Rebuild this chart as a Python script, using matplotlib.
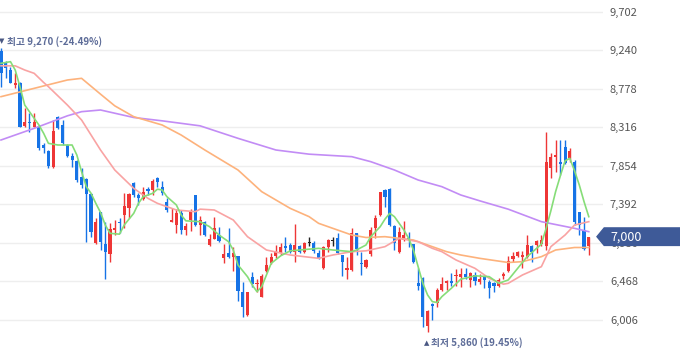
import numpy as np
import matplotlib.pyplot as plt
from matplotlib.patches import Polygon
from matplotlib.transforms import blended_transform_factory

plt.rcParams['font.family'] = ['Noto Sans CJK KR', 'DejaVu Sans']

# daily candles (KRW), oldest -> newest
opens = [9232, 9092, 9000, 8820, 8840, 8332, 8380, 8320, 8320, 8100,
         8028, 7840, 8432, 8340, 8100, 7972, 7912, 7720, 7692, 7508,
         6920, 7300, 6908, 6792, 7080, 7180, 7260, 7340, 7648, 7500,
         7452, 7572, 7556, 7700, 7592, 7420, 7180, 7140, 7280, 7080,
         7200, 7500, 7140, 7180, 6900, 6972, 7020, 6740, 6800, 6760,
         6768, 6340, 6060, 6512, 6428, 6280, 6592, 6680, 6768, 6800,
         6888, 6900, 6820, 6888, 6820, 6924, 6928, 6800, 6620, 6880,
         6948, 6980, 6780, 6600, 6600, 7040, 6688, 6640, 6788, 7100,
         7260, 7560, 7572, 7132, 6820, 6960, 6988, 6912, 6440, 6500,
         5924, 6188, 6200, 6360, 6444, 6468, 6524, 6520, 6552, 6480,
         6540, 6460, 6520, 6460, 6440, 6412, 6532, 6588, 6732, 6772,
         6752, 6760, 6892, 6900, 6908, 6892, 7828, 7960, 7892, 8072,
         7940, 7900, 7292, 7080, 6892]
highs = [9270, 9112, 9040, 8960, 8860, 8544, 8484, 8484, 8340, 8128,
         8040, 8400, 8448, 8400, 8110, 8000, 7920, 7820, 7700, 7520,
         7220, 7300, 7180, 7160, 7200, 7220, 7520, 7520, 7660, 7520,
         7600, 7600, 7688, 7720, 7672, 7460, 7340, 7328, 7320, 7160,
         7328, 7500, 7250, 7190, 7032, 7240, 7120, 6912, 7100, 6880,
         6772, 6460, 6340, 6580, 6488, 6552, 6752, 6808, 6900, 6928,
         7000, 6924, 7148, 6900, 6940, 6992, 6948, 6840, 6888, 6968,
         6992, 7040, 6780, 6760, 7100, 7048, 6820, 6732, 7120, 7260,
         7540, 7572, 7584, 7140, 7120, 7192, 7060, 6912, 6620, 6520,
         6120, 6200, 6380, 6516, 6480, 6560, 6608, 6620, 6620, 6580,
         6576, 6548, 6540, 6480, 6460, 6500, 6580, 6772, 6820, 6828,
         6828, 7020, 6900, 6960, 7020, 8252, 8000, 8160, 8160, 8160,
         8068, 7920, 7300, 7240, 7000]
lows = [8800, 8900, 8840, 8780, 8312, 8320, 8260, 8312, 8040, 8008,
        7820, 7830, 8292, 8100, 7960, 7840, 7660, 7580, 6940, 7000,
        6912, 6840, 6488, 6700, 7020, 7040, 7100, 7220, 7480, 7380,
        7440, 7500, 7500, 7600, 7500, 7300, 7180, 7048, 7032, 7020,
        7072, 7130, 7020, 7010, 6890, 6968, 6940, 6688, 6748, 6592,
        6232, 6032, 6052, 6400, 6340, 6272, 6580, 6672, 6740, 6780,
        6820, 6810, 6700, 6808, 6808, 6892, 6800, 6732, 6608, 6820,
        6888, 6792, 6532, 6488, 6592, 6780, 6540, 6628, 6772, 6980,
        7248, 7360, 7128, 6840, 6800, 6952, 6880, 6680, 6360, 5916,
        5860, 6000, 6160, 6348, 6360, 6408, 6408, 6400, 6488, 6400,
        6420, 6428, 6380, 6268, 6340, 6400, 6492, 6580, 6692, 6760,
        6628, 6740, 6700, 6800, 6892, 6840, 7700, 7780, 7740, 7868,
        7900, 7140, 7020, 6840, 6780]
closes = [8968, 9020, 8848, 8840, 8320, 8380, 8364, 8380, 8060, 8060,
          7848, 8268, 8300, 8120, 7968, 7920, 7680, 7620, 7508, 7060,
          7180, 6940, 6820, 7092, 7100, 7160, 7372, 7508, 7500, 7464,
          7540, 7548, 7668, 7660, 7520, 7320, 7200, 7280, 7080, 7128,
          7300, 7140, 7200, 7020, 6972, 7100, 6948, 6792, 6752, 6808,
          6352, 6152, 6332, 6432, 6440, 6528, 6660, 6760, 6824, 6872,
          6868, 6820, 6900, 6820, 6928, 6924, 6832, 6740, 6880, 6960,
          6948, 6800, 6700, 6628, 7040, 6852, 6676, 6720, 7080, 7228,
          7532, 7480, 7140, 6920, 7052, 7020, 6968, 6696, 6408, 6040,
          6112, 6164, 6364, 6432, 6462, 6444, 6544, 6552, 6520, 6568,
          6472, 6492, 6480, 6380, 6412, 6480, 6548, 6708, 6768, 6820,
          6780, 6900, 6820, 6952, 6960, 7892, 7952, 7980, 7868, 7880,
          8032, 7180, 7140, 6852, 7000]

# moving averages (day index, price)
ma5_days = [0, 2, 3, 4, 5, 7, 8, 9, 10, 12, 15, 16, 17, 18, 19, 20, 21, 22, 23,
            25, 26, 28, 29, 30, 32, 33, 34, 35, 37, 38, 39, 42, 44, 46, 48, 49,
            50, 52, 53, 54, 55, 56, 57, 59, 61, 63, 67, 70, 74, 75, 77, 78, 80,
            81, 82, 83, 84, 85, 86, 87, 88, 89, 90, 91, 92, 93, 95, 97, 100,
            103, 105, 107, 109, 111, 114, 115, 116, 117, 118, 119, 120, 121,
            122, 123, 124]
ma5_vals = [9080, 9100, 9000, 8800, 8580, 8420, 8340, 8240, 8120, 8100, 8100,
            7980, 7780, 7600, 7520, 7400, 7290, 7140, 7040, 7030, 7140, 7280,
            7400, 7480, 7520, 7570, 7560, 7480, 7380, 7260, 7190, 7180, 7120,
            7020, 6940, 6840, 6660, 6520, 6420, 6340, 6400, 6540, 6680, 6770,
            6830, 6840, 6860, 6840, 6820, 6840, 6900, 7000, 7120, 7210, 7280,
            7240, 7160, 7080, 6980, 6840, 6640, 6440, 6300, 6220, 6210, 6280,
            6380, 6490, 6530, 6520, 6440, 6480, 6620, 6760, 6910, 7100, 7310,
            7540, 7730, 7910, 7940, 7790, 7620, 7420, 7240]
ma20_days = [0, 3, 5, 7, 9, 10, 14, 17, 21, 24, 28, 31, 33, 37, 41, 42, 45, 49,
             52, 56, 61, 67, 70, 74, 77, 81, 84, 88, 91, 93, 96, 100, 103, 106,
             107, 110, 114, 116, 119, 121, 124]
ma20_vals = [9050, 9050, 9000, 8960, 8850, 8800, 8580, 8400, 8040, 7800, 7580,
             7460, 7400, 7320, 7300, 7330, 7320, 7200, 7000, 6840, 6780, 6740,
             6780, 6820, 6830, 6880, 6980, 6940, 6860, 6820, 6720, 6620, 6500,
             6430, 6440, 6540, 6640, 6880, 7020, 7140, 7180]
ma60_days = [0, 7, 14, 17, 21, 24, 28, 34, 38, 43, 50, 55, 61, 65, 67, 74, 77,
             81, 84, 87, 90, 94, 97, 101, 107, 110, 114, 117, 121, 124]
ma60_vals = [8680, 8780, 8880, 8900, 8710, 8570, 8440, 8340, 8220, 8040, 7800,
             7540, 7340, 7240, 7160, 7020, 6990, 7000, 6980, 6960, 6900, 6820,
             6780, 6740, 6690, 6700, 6760, 6840, 6870, 6870]
ma120_days = [0, 7, 14, 17, 21, 28, 34, 42, 50, 58, 65, 74, 78, 83, 88, 93, 97,
              101, 107, 114, 121, 124]
ma120_vals = [8160, 8300, 8450, 8500, 8520, 8430, 8390, 8330, 8180, 8040, 7990,
              7960, 7900, 7800, 7680, 7600, 7500, 7430, 7330, 7180, 7100, 7060]

y_ticks = [6006, 6468, 6930, 7392, 7854, 8316, 8778, 9240, 9702]

UP = "#ee3636"
DOWN = "#1673e6"
LABEL = "#5d6c98"

o, h, l, c = (np.array(a) for a in (opens, highs, lows, closes))
days = np.arange(len(c))
colors = np.where(c > o, UP, np.where(c < o, DOWN, "#222222"))

fig = plt.figure(figsize=(6.8, 3.58), dpi=100)
ax = fig.add_axes([0, 0, 603 / 680, 1])

ax.vlines(days, l, h, colors=colors, linewidth=1, zorder=3)
ax.bar(days, np.maximum(np.abs(c - o), 14), bottom=np.minimum(o, c),
       width=0.66, color=colors, linewidth=0, zorder=3)

ax.plot(ma120_days, ma120_vals, color="#c28cf5", lw=1.2, zorder=4)
ax.plot(ma60_days, ma60_vals, color="#fdb27c", lw=1.2, zorder=4)
ax.plot(ma20_days, ma20_vals, color="#f9a3a3", lw=1.2, zorder=4)
ax.plot(ma5_days, ma5_vals, color="#86dd78", lw=1.2, zorder=4)

ax.set_xlim(-0.21, 127)
ax.set_ylim(5544, 9840)
ax.set_xticks([])
ax.set_yticks(y_ticks)
ax.set_yticklabels([f"{v:,}" for v in y_ticks])
ax.yaxis.tick_right()
ax.tick_params(axis="y", length=0, pad=5, labelsize=8, labelcolor="#555555")
ax.grid(axis="y", color="#eeeeee", linewidth=1, zorder=0)
for s in ax.spines.values():
    s.set_visible(False)

# high / low markers
last = c[-1]
hi_i = int(np.argmax(h))
lo_i = int(np.argmin(l))
hi, lo = h[hi_i], l[lo_i]
ax.annotate("▼", xy=(hi_i, hi), xytext=(0.5, 4.5), textcoords="offset points",
            ha="center", va="center", fontsize=5, color="#4a5883",
            family=["DejaVu Sans"], annotation_clip=False)
ax.annotate(f"최고 {hi:,} ({(last - hi) / hi * 100:.2f}%)", xy=(hi_i, hi),
            xytext=(4.5, 4.5), textcoords="offset points", ha="left", va="center",
            fontsize=7, color=LABEL, fontweight="bold", annotation_clip=False)
ax.annotate("▲", xy=(lo_i, lo), xytext=(-1, -8), textcoords="offset points",
            ha="center", va="center", fontsize=5, color="#4a5883",
            family=["DejaVu Sans"], annotation_clip=False)
ax.annotate(f"최저 {lo:,} ({(last - lo) / lo * 100:.2f}%)", xy=(lo_i, lo),
            xytext=(2.5, -8), textcoords="offset points", ha="left", va="center",
            fontsize=7, color=LABEL, fontweight="bold", annotation_clip=False)

# current price tag
tr = blended_transform_factory(ax.transAxes, ax.transData)
half = 105
tag = Polygon([(0.990, last), (1.002, last + half), (1.128, last + half),
               (1.128, last - half), (1.002, last - half)],
              closed=True, transform=tr, clip_on=False, color="#3e5a98", zorder=10)
ax.add_patch(tag)
ax.text(1.012, last, f"{last:,}", transform=tr, ha="left", va="center",
        fontsize=9, color="white", zorder=11, clip_on=False)

fig.savefig("out.png", dpi=100)
